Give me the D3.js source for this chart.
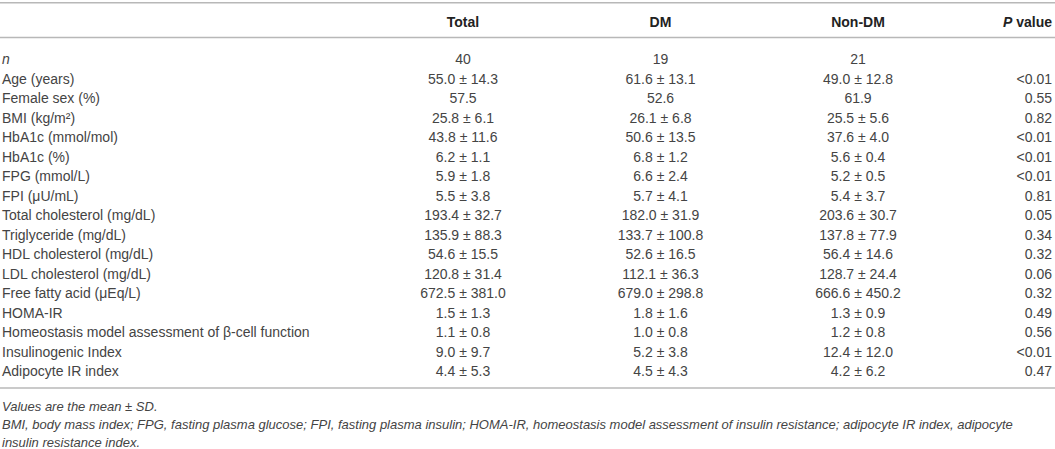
<!DOCTYPE html>
<html><head><meta charset="utf-8">
<script src="https://cdn.jsdelivr.net/npm/d3@7"></script>
<style>
html,body{margin:0;padding:0;background:#fff;}
svg{display:block;}
text{font-family:"Liberation Sans",Arial,Helvetica,sans-serif;}
</style></head>
<body>
<svg id="chart" width="1055" height="449"></svg>
<script>
const columns = ["Total", "DM", "Non-DM", "P value"];
const rowLabels = ["n", "Age (years)", "Female sex (%)", "BMI (kg/m²)", "HbA1c (mmol/mol)", "HbA1c (%)",
  "FPG (mmol/L)", "FPI (μU/mL)", "Total cholesterol (mg/dL)", "Triglyceride (mg/dL)", "HDL cholesterol (mg/dL)",
  "LDL cholesterol (mg/dL)", "Free fatty acid (μEq/L)", "HOMA-IR", "Homeostasis model assessment of β-cell function",
  "Insulinogenic Index", "Adipocyte IR index"];
const totalVals = ["40", "55.0 ± 14.3", "57.5", "25.8 ± 6.1", "43.8 ± 11.6", "6.2 ± 1.1", "5.9 ± 1.8", "5.5 ± 3.8",
  "193.4 ± 32.7", "135.9 ± 88.3", "54.6 ± 15.5", "120.8 ± 31.4", "672.5 ± 381.0", "1.5 ± 1.3", "1.1 ± 0.8", "9.0 ± 9.7", "4.4 ± 5.3"];
const dmVals = ["19", "61.6 ± 13.1", "52.6", "26.1 ± 6.8", "50.6 ± 13.5", "6.8 ± 1.2", "6.6 ± 2.4", "5.7 ± 4.1",
  "182.0 ± 31.9", "133.7 ± 100.8", "52.6 ± 16.5", "112.1 ± 36.3", "679.0 ± 298.8", "1.8 ± 1.6", "1.0 ± 0.8", "5.2 ± 3.8", "4.5 ± 4.3"];
const nonDmVals = ["21", "49.0 ± 12.8", "61.9", "25.5 ± 5.6", "37.6 ± 4.0", "5.6 ± 0.4", "5.2 ± 0.5", "5.4 ± 3.7",
  "203.6 ± 30.7", "137.8 ± 77.9", "56.4 ± 14.6", "128.7 ± 24.4", "666.6 ± 450.2", "1.3 ± 0.9", "1.2 ± 0.8", "12.4 ± 12.0", "4.2 ± 6.2"];
const pVals = ["", "<0.01", "0.55", "0.82", "<0.01", "<0.01", "<0.01", "0.81", "0.05", "0.34", "0.32", "0.06", "0.32", "0.49", "0.56", "<0.01", "0.47"];
const footnotes = ["Values are the mean ± SD.",
  "BMI, body mass index; FPG, fasting plasma glucose; FPI, fasting plasma insulin; HOMA-IR, homeostasis model assessment of insulin resistance; adipocyte IR index, adipocyte",
  "insulin resistance index."];

const W = 1055;
const svg = d3.select("#chart");
const textColor = "#444";
const lineColor = "#b8b8b8";

// row scale (vertical)
const y = d3.scaleBand().domain(d3.range(rowLabels.length)).range([49.25, 380.75]);
// column scale (horizontal centers for the three value columns)
const x = d3.scalePoint().domain(columns.slice(0, 3)).range([463, 858]);
const pRight = 1052;

// rules
[2.8, 37.5, 388].forEach(v => {
  svg.append("line").attr("x1", 0).attr("x2", W).attr("y1", v).attr("y2", v)
    .attr("stroke", lineColor).attr("stroke-width", 1.6);
});

// header
const headerY = 26.5;
columns.slice(0, 3).forEach(c => {
  svg.append("text").attr("x", x(c)).attr("y", headerY).attr("text-anchor", "middle")
    .attr("font-size", 14).attr("font-weight", "bold").attr("fill", "#222").text(c);
});
const ph = svg.append("text").attr("x", pRight).attr("y", headerY).attr("text-anchor", "end")
  .attr("font-size", 14).attr("font-weight", "bold").attr("fill", "#222");
ph.append("tspan").attr("font-style", "italic").text("P");
ph.append("tspan").text(" value");

// body
const baseOff = y.bandwidth() / 2 + 5;
const rows = svg.append("g").selectAll("g").data(rowLabels).join("g")
  .attr("transform", (d, i) => `translate(0,${y(i) + baseOff})`);

rows.append("text").attr("x", 2).attr("font-size", 14).attr("fill", textColor)
  .attr("font-style", (d, i) => i === 0 ? "italic" : null).text(d => d);

const valueCols = [[columns[0], totalVals], [columns[1], dmVals], [columns[2], nonDmVals]];
valueCols.forEach(([c, vals]) => {
  rows.append("text").attr("x", x(c)).attr("text-anchor", "middle").attr("font-size", 14)
    .attr("fill", textColor).text((d, i) => vals[i]);
});
rows.append("text").attr("x", pRight).attr("text-anchor", "end").attr("font-size", 14)
  .attr("fill", textColor).text((d, i) => pVals[i]);

// footnotes
const fy = d3.scalePoint().domain(d3.range(footnotes.length)).range([411, 446.5]);
footnotes.forEach((f, i) => {
  svg.append("text").attr("x", 2).attr("y", fy(i)).attr("font-size", 13).attr("font-style", "italic")
    .attr("fill", textColor).text(f);
});
</script>
</body></html>
